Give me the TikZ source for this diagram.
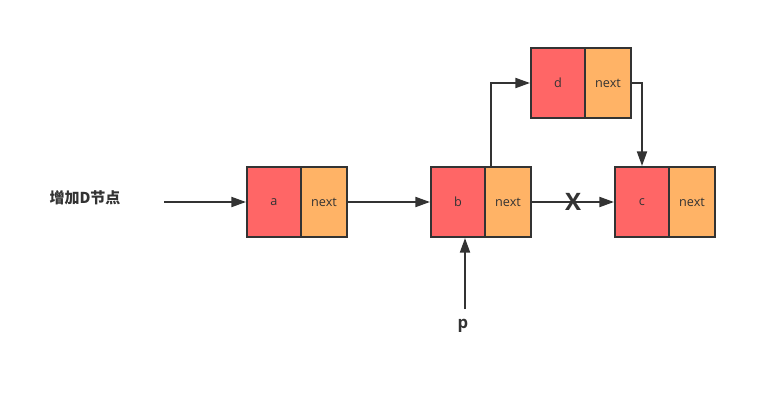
\documentclass[tikz,border=0pt]{standalone}
\usepackage{fontspec}
\setmainfont{Open Sans}
\newfontfamily\cjk{Noto Sans CJK SC}
\usetikzlibrary{arrows.meta}
\definecolor{valred}{HTML}{FF6666}
\definecolor{nextorange}{HTML}{FFB366}
\definecolor{ink}{HTML}{333333}
\tikzset{
  valcell/.style = {
    rectangle, draw=ink, line width=1.5pt, fill=valred,
    minimum width=40.5pt, minimum height=52.5pt, inner sep=0pt,
    font=\fontsize{9.5}{11}\selectfont, text=ink
  },
  nextcell/.style = {
    rectangle, draw=ink, line width=1.5pt, fill=nextorange,
    minimum width=34.5pt, minimum height=52.5pt, inner sep=0pt,
    font=\fontsize{9.5}{11}\selectfont, text=ink
  },
  link/.style = {
    draw=ink, line width=1.5pt,
    -{Triangle[length=11pt,width=7.5pt]}
  },
  label/.style = {
    font=\bfseries, text=ink, inner sep=0pt
  }
}

\begin{document}
\begin{tikzpicture}[x=0.75pt, y=-0.75pt]
    \useasboundingbox (0,0) rectangle (777,414);

    % ------------------------------------------------------------- Nodes
    \node [valcell]  (a_val)  at (274, 202) {a};
    \node [nextcell] (a_next) at (324, 202) {next};
    \node [valcell]  (b_val)  at (458, 202) {b};
    \node [nextcell] (b_next) at (508, 202) {next};
    \node [valcell]  (c_val)  at (642, 202) {c};
    \node [nextcell] (c_next) at (692, 202) {next};
    \node [valcell]  (d_val)  at (558,  83) {d};
    \node [nextcell] (d_next) at (608,  83) {next};

    % ------------------------------------------------------------- Labels
    \node [label, font=\cjk\bfseries\fontsize{11.25}{13}\selectfont] (title) at (85, 198) {增加D节点};
    \node [label, font=\bfseries\fontsize{12.5}{14}\selectfont] (p) at (463, 326) {p};
    \coordinate (start) at (164, 202);
    \coordinate (p_tail) at (465, 309);

    % ------------------------------------------------------------- Links
    \draw [link] (start) -- (a_val.west);
    \draw [link] (a_next.east) -- (b_val.west);
    \draw [link] (b_next.east) -- (c_val.west)
      node [label, midway, font=\bfseries\fontsize{18}{20}\selectfont] (cut) {X};
    \draw [link] ([xshift=5.25pt]b_next.north west) |- (d_val.west);
    \draw [link] (d_next.east) -| (c_val.north);
    \draw [link] (p_tail) -- (p_tail |- b_val.south);

\end{tikzpicture}
\end{document}
